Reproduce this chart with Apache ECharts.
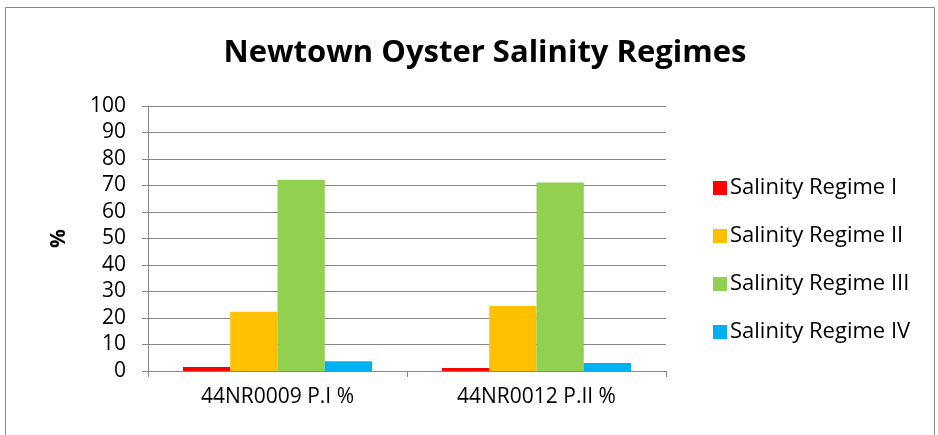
<!DOCTYPE html>
<html>
<head>
<meta charset="utf-8">
<script src="https://cdn.jsdelivr.net/npm/echarts@6/dist/echarts.min.js"></script>
<style>
  html, body { margin: 0; padding: 0; background: #fff; }
  #chart { width: 938px; height: 435px; }
</style>
</head>
<body>
<div id="chart"></div>
<script>
// data
var categories = ["44NR0009 P.I %", "44NR0012 P.II %"];
var regimeI = [1.5, 1.1];
var regimeII = [22.4, 24.5];
var regimeIII = [72.1, 71.1];
var regimeIV = [3.7, 3.0];
var seriesNames = ["Salinity Regime I", "Salinity Regime II", "Salinity Regime III", "Salinity Regime IV"];
var colors = ["#ff0000", "#ffc000", "#92d050", "#00b0f0"];

var font = "'Open Sans', 'Liberation Sans', sans-serif";
var chart = echarts.init(document.getElementById("chart"), null, { renderer: "canvas" });

var values = [regimeI, regimeII, regimeIII, regimeIV];
var series = values.map(function (d, i) {
  return {
    name: seriesNames[i],
    type: "bar",
    data: d,
    barGap: 0,
    barCategoryGap: "27%",
    itemStyle: { color: colors[i] }
  };
});

chart.setOption({
  backgroundColor: "#fff",
  animation: false,
  title: {
    text: "Newtown Oyster Salinity Regimes",
    left: 480,
    top: 33,
    textAlign: "center",
    textStyle: { fontFamily: font, fontWeight: "bold", fontSize: 31, color: "#000" }
  },
  graphic: [{
    type: "rect",
    shape: { x: 5.5, y: 7.5, width: 929, height: 440 },
    style: { fill: "none", stroke: "#868686", lineWidth: 1 }
  }],
  legend: {
    orient: "vertical",
    left: 708,
    top: 172,
    itemGap: 26,
    itemWidth: 14,
    itemHeight: 14,
    icon: "rect",
    textStyle: { fontFamily: font, fontSize: 22, color: "#000", padding: [0, 0, 0, -2] },
    data: seriesNames
  },
  grid: { left: 148, right: 272, top: 106, bottom: 64 },
  xAxis: {
    type: "category",
    data: categories,
    axisLine: { lineStyle: { color: "#868686", width: 1 } },
    axisTick: { show: true, length: 6, lineStyle: { color: "#868686" } },
    axisLabel: { fontFamily: font, fontSize: 21, color: "#000", margin: 16 }
  },
  yAxis: {
    type: "value",
    min: 0,
    max: 100,
    interval: 10,
    name: "%",
    nameLocation: "middle",
    nameGap: 78,
    nameRotate: 90,
    nameTextStyle: { fontFamily: font, fontWeight: "bold", fontSize: 21, color: "#000" },
    axisLine: { show: true, lineStyle: { color: "#868686", width: 1 } },
    axisTick: { show: true, length: 6, lineStyle: { color: "#868686" } },
    axisLabel: { fontFamily: font, fontSize: 21, color: "#000", margin: 22 },
    splitLine: { show: true, lineStyle: { color: "#868686", width: 1 } }
  },
  series: series
});
</script>
</body>
</html>
